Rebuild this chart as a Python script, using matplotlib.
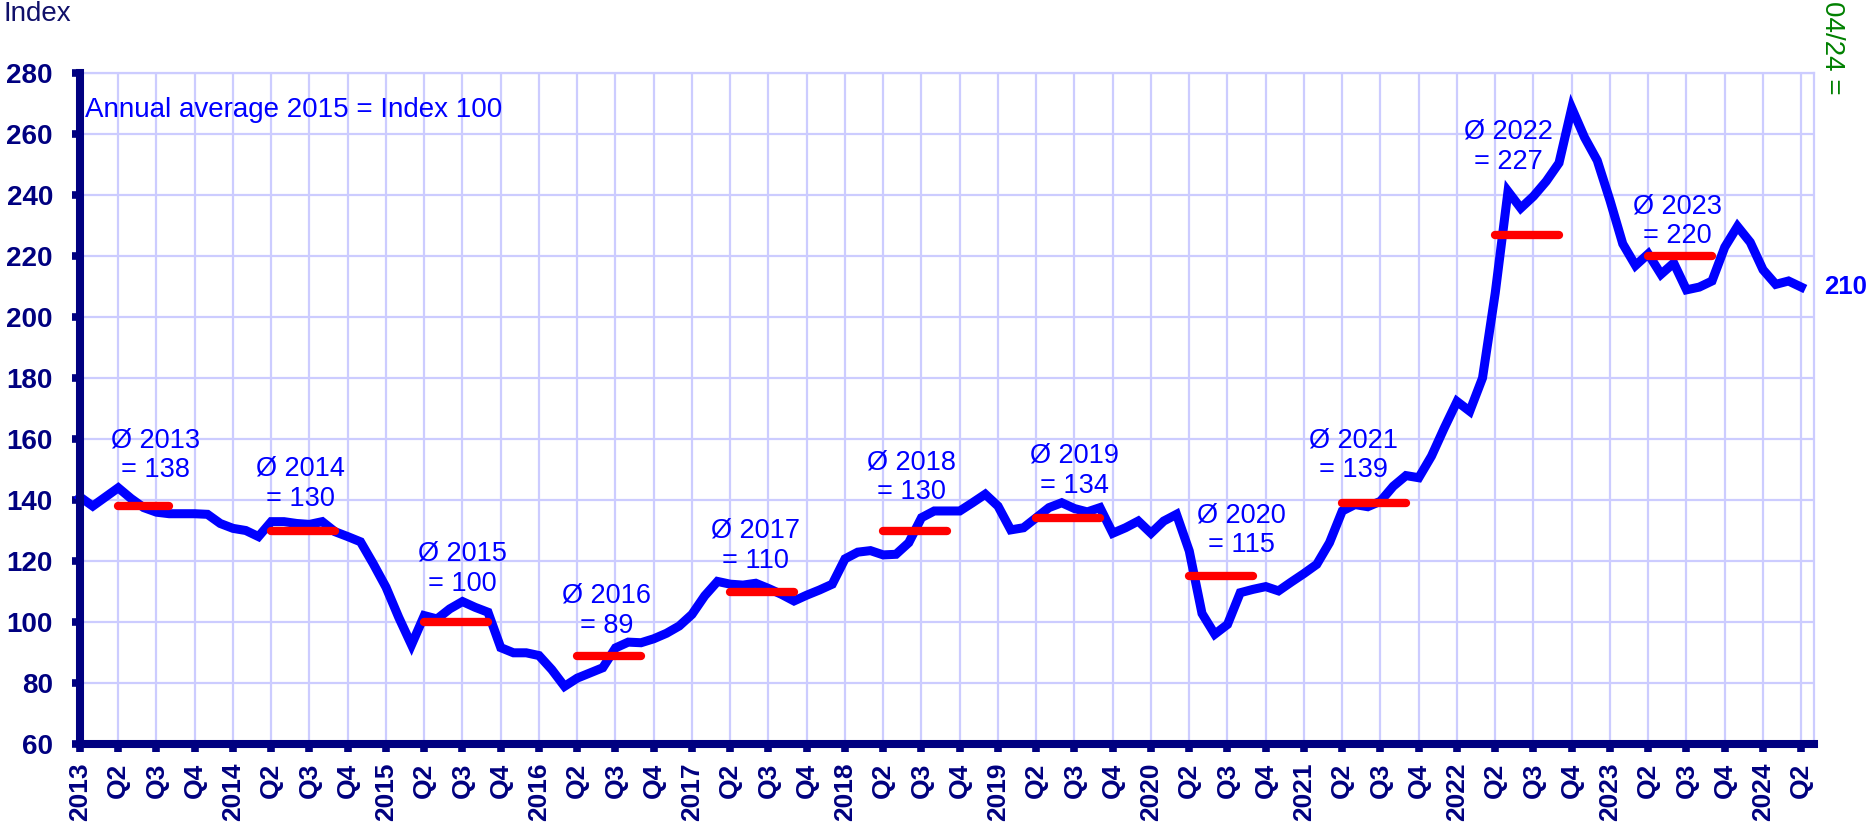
import numpy as np
import matplotlib
matplotlib.use("Agg")
import matplotlib.pyplot as plt

plt.rcParams['font.family'] = ['Liberation Sans', 'DejaVu Sans']

# Monatswerte Jan 2013 - Apr 2024 (Index, Jahresdurchschnitt 2015 = 100)
idx_2013 = [141, 138, 141, 144, 140.5, 137.5, 136, 135.5, 135.5, 135.5, 135.3, 132.3]
idx_2014 = [130.7, 130, 128, 132.9, 132.9, 132.3, 132, 132.9, 129.6, 128, 126.3, 119.1]
idx_2015 = [111.4, 101.5, 92.5, 102.1, 101, 104.3, 106.7, 104.8, 103.2, 91.6, 89.9, 89.9]
idx_2016 = [89, 84.4, 78.9, 81.6, 83.3, 85, 91.5, 93.4, 93.2, 94.5, 96.3, 98.7]
idx_2017 = [102.5, 108.6, 113.3, 112.4, 112.1, 112.7, 111, 109.1, 106.9, 108.8, 110.5, 112.4]
idx_2018 = [120.7, 122.9, 123.4, 122, 122.2, 126, 134.2, 136.4, 136.4, 136.4, 139.1, 141.9]
idx_2019 = [138, 130.2, 130.9, 134.2, 137.5, 139.1, 137.2, 136.1, 137.5, 129.1, 130.9, 133.1]
idx_2020 = [129.1, 133.1, 135.3, 123.3, 102.8, 96, 99.2, 109.6, 110.7, 111.6, 110.2, 113.1]
idx_2021 = [115.9, 118.9, 126, 136.4, 138.5, 137.8, 139.6, 144.5, 148, 147.3, 154.4, 163.6]
idx_2022 = [172.3, 169.1, 180, 207.9, 241.2, 235.7, 239.6, 244.5, 250.5, 268.5, 258.9, 251.3]
idx_2023 = [238.2, 224, 216.9, 220.7, 214, 217.7, 208.9, 209.8, 211.8, 222.9, 229.7, 224.5]
idx_2024 = [215.5, 210.7, 211.8, 209.8]

values = (idx_2013 + idx_2014 + idx_2015 + idx_2016 + idx_2017 + idx_2018
          + idx_2019 + idx_2020 + idx_2021 + idx_2022 + idx_2023 + idx_2024)
months = np.arange(len(values))

# Jahresdurchschnitte
avg_years = [2013, 2014, 2015, 2016, 2017, 2018, 2019, 2020, 2021, 2022, 2023]
avg_values = [138, 130, 100, 89, 110, 130, 134, 115, 139, 227, 220]
# Monat im Jahr, von dem bis zu dem der rote Balken geht
avg_from = [3, 3, 3, 3, 3, 3, 3, 3, 3, 3, 3]
avg_to = [7, 8, 8, 8, 8, 8, 8, 8, 8, 8, 8]
# Lage der Beschriftungen (Monat, Index)
lab_x = [5.9, 17.3, 30.0, 41.3, 53.0, 65.2, 78.0, 91.1, 99.9, 112.0, 125.3]
lab_y = [154.6, 145.3, 117.4, 103.7, 125.0, 147.5, 149.6, 130.0, 154.6, 255.8, 231.4]

tick_labels = []
for y in range(2013, 2025):
    tick_labels += [str(y), 'Q2', 'Q3', 'Q4']
tick_labels = tick_labels[:46]

navy = '#000080'
grid_c = '#ccccff'

fig = plt.figure(figsize=(18.74, 8.33), dpi=100)
ax = fig.add_axes([80 / 1874, 1 - 744 / 833, (1814 - 80) / 1874, (744 - 73) / 833])

ax.plot(months, values, color='#0000ff', lw=6.5, solid_joinstyle='miter', zorder=3, clip_on=False)

for i, yr in enumerate(avg_years):
    x0 = (yr - 2013) * 12 + avg_from[i]
    x1 = (yr - 2013) * 12 + avg_to[i]
    ax.plot([x0, x1], [avg_values[i], avg_values[i]], color='#ff0000', lw=6,
            solid_capstyle='round', zorder=4)
    ax.text(lab_x[i], lab_y[i], f'Ø {yr}\n= {avg_values[i]}', color='#0000ff',
            fontsize=19.5, ha='center', va='center', linespacing=1.2, zorder=5)

ax.text(0.4, 268, 'Annual average 2015 = Index 100', color='#0000ff', fontsize=20,
        ha='left', va='center')
ax.text(136.8, values[-1], f'{values[-1]:.0f}', color='#0000ff', fontsize=18.5,
        fontweight='bold', ha='left', va='center', clip_on=False)

ax.set_xlim(0, 136)
ax.set_ylim(60, 280)
ax.set_xticks(np.arange(0, 136, 3))
ax.set_xticklabels(tick_labels, rotation=90, fontsize=19, fontweight='bold', color=navy)
ax.set_yticks(np.arange(60, 281, 20))
ax.set_yticklabels([str(v) for v in range(60, 281, 20)], fontsize=20,
                   fontweight='bold', color=navy)
ax.tick_params(axis='both', length=5.5, width=5.5, color=navy)
ax.tick_params(axis='x', pad=8)
ax.tick_params(axis='y', pad=14)

ax.grid(True, color=grid_c, lw=1.6, zorder=0)
ax.set_axisbelow(True)
for s in ['left', 'bottom']:
    ax.spines[s].set_color(navy)
    ax.spines[s].set_linewidth(5.8)
    ax.spines[s].set_zorder(6)
for s in ['top', 'right']:
    ax.spines[s].set_color(grid_c)
    ax.spines[s].set_linewidth(1.6)

fig.text(3 / 1874, 1 - 14 / 833, 'Index', color='#10106a', fontsize=20,
         ha='left', va='center')
fig.text(1832 / 1874, 0.999, '04/24 =', color='#008000', fontsize=20,
         rotation=270, ha='center', va='top')

fig.savefig('out.png', dpi=100)
